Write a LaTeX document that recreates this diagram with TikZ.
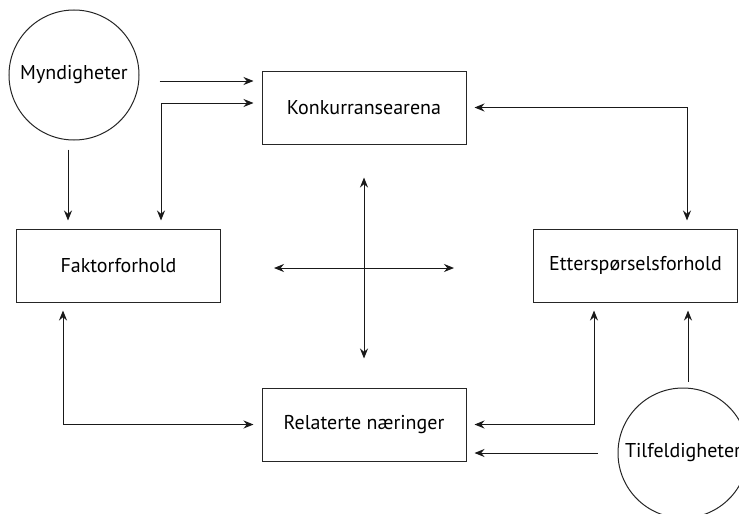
\documentclass[tikz,border=0pt]{standalone}
\usepackage{fontspec}
\setmainfont{PT Sans}
\usepackage{tikz}
\usetikzlibrary{arrows.meta, calc}

\begin{document}
\begin{tikzpicture}[
    x=0.5pt, y=-0.5pt,
    line width=0.5pt,
    boks/.style={draw=black!85, minimum width=102pt, minimum height=36.5pt, inner sep=0pt, font=\fontsize{10}{12}\selectfont},
    sirkel/.style={draw=black!85, circle, minimum size=65pt, inner sep=0pt, font=\fontsize{10}{12}\selectfont},
    pil/.style={-{Stealth[length=5pt, width=4pt]}, shorten >=4pt, black!90},
    dobbel/.style={{Stealth[length=5pt, width=4pt]}-{Stealth[length=5pt, width=4pt]}, shorten <=4pt, shorten >=4pt, black!90}
]
    \useasboundingbox (0,0) rectangle (739,514);

    % Boxes
    \node[boks] (konk) at (364, 107.5) {Konkurransearena};
    \node[boks] (fakt) at (118.5, 265.5) {Faktorforhold};
    \node[boks] (ett) at (635.5, 265.5) {Etterspørselsforhold};
    \node[boks] (rel) at (364, 424.5) {Relaterte næringer};

    % Circles
    \node[sirkel] (mynd) at (74, 75) {Myndigheter};
    \node[sirkel] (tilf) at (683, 453) {Tilfeldigheter};

    % Start and bend points
    \coordinate (m1) at ($(mynd.east)+(0,6)$);
    \coordinate (m2) at ($(mynd.south)+(-6,0)$);
    \coordinate (f1) at ($(fakt.north)+(42.5,0)$);
    \coordinate (k1) at ($(konk.west)+(0,-4.5)$);
    \coordinate (e1) at ($(ett.north)+(51.5,0)$);
    \coordinate (f2) at ($(fakt.south)+(-55.5,0)$);
    \coordinate (e2) at ($(ett.south)+(-41.5,0)$);
    \coordinate (t1) at ($(tilf.north)+(5,0)$);
    \coordinate (midt) at ($(fakt.east)+(0,2.5)$);

    % From Myndigheter
    \draw[pil, shorten <=10pt] (m1) -- (m1 -| konk.west);
    \draw[pil, shorten <=4.5pt] (m2) -- (m2 |- fakt.north);

    % Links round the diamond
    \draw[dobbel] (f1) |- (k1);
    \draw[dobbel] (konk.east) -| (e1);
    \draw[dobbel] (f2) |- (rel.west);
    \draw[dobbel] (e2) |- (rel.east);

    % Cross in the middle
    \draw[dobbel, shorten <=16.5pt, shorten >=14.5pt] (konk.south) -- (rel.north);
    \draw[dobbel, shorten <=26.5pt, shorten >=39.5pt] (midt) -- (midt -| ett.west);

    % From Tilfeldigheter
    \draw[pil, shorten <=10pt] (tilf.west) -- (tilf.west -| rel.east);
    \draw[pil, shorten <=3pt] (t1) -- (t1 |- ett.south);

\end{tikzpicture}
\end{document}
